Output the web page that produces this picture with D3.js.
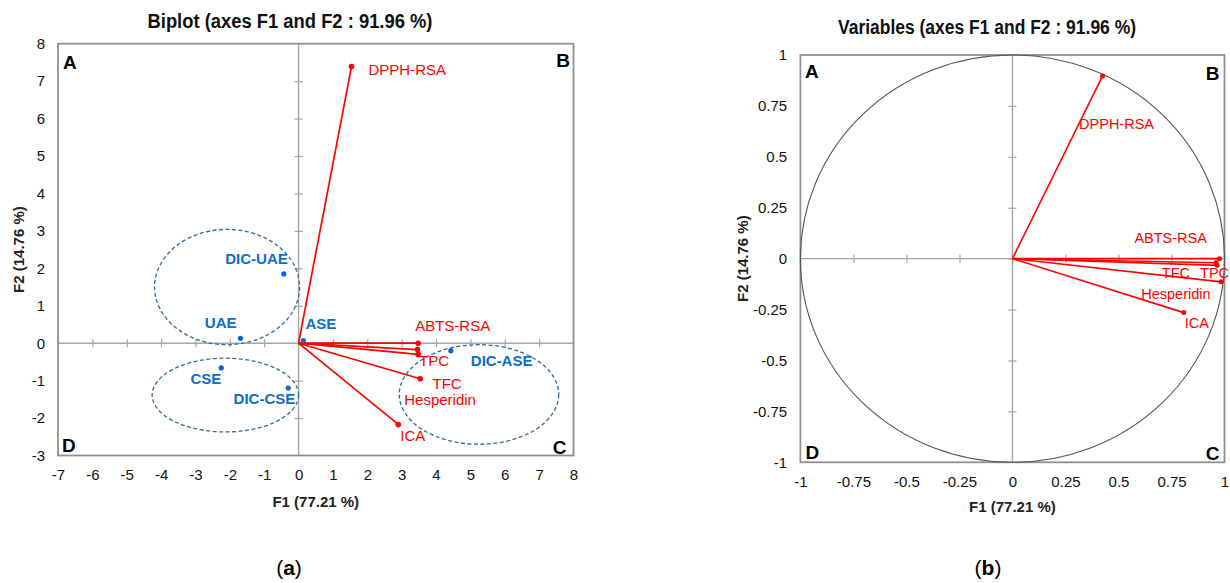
<!DOCTYPE html>
<html><head><meta charset="utf-8">
<script src="https://cdn.jsdelivr.net/npm/d3@7"></script>
<style>
body{margin:0;background:#fff}
svg{display:block}
text{font-family:"Liberation Sans",Arial,sans-serif}
</style>
</head><body>
<svg id="chart" width="1230" height="583"></svg>
<script>
// ---------------- DATA ----------------
// Observations (biplot, panel a)
const obsNames = ["DIC-UAE", "UAE", "ASE", "CSE", "DIC-CSE", "DIC-ASE"];
const obsF1    = [-0.43, -1.69, 0.14, -2.25, -0.30, 4.43];
const obsF2    = [ 1.85,  0.13, 0.07, -0.66, -1.20, -0.20];

// Variables
const varNames   = ["DPPH-RSA", "ABTS-RSA", "TFC", "TPC", "Hesperidin", "ICA"];
const biplotVarF1 = [1.54, 3.48, 3.46, 3.48, 3.54, 2.90];
const biplotVarF2 = [7.39, 0.00, -0.17, -0.30, -0.95, -2.17];
const corrVarF1   = [0.425, 0.976, 0.960, 0.965, 0.984, 0.808];
const corrVarF2   = [0.897, 0.000, -0.020, -0.033, -0.114, -0.265];

// Group ellipses (biplot)
const groupCx = [-2.08, -2.13, 5.25];
const groupCy = [ 1.50, -1.385, -1.37];
const groupRx = [ 2.11, 2.13, 2.32];
const groupRy = [ 1.54, 0.985, 1.33];

// Ticks
const biplotXTicks = [-7,-6,-5,-4,-3,-2,-1,0,1,2,3,4,5,6,7,8];
const biplotYTicks = [-3,-2,-1,0,1,2,3,4,5,6,7,8];
const circleTicks  = [-1,-0.75,-0.5,-0.25,0,0.25,0.5,0.75,1];
const quadrants    = ["A","B","C","D"];

const titleA = "Biplot (axes F1 and F2 : 91.96 %)";
const titleB = "Variables (axes F1 and F2 : 91.96 %)";
const xTitle = "F1 (77.21 %)";
const yTitle = "F2 (14.76 %)";

// ---------------- LAYOUT / STYLE ----------------
const BOX_A = {x0: 58, x1: 573.5, y0: 43.7, y1: 455.5};
const BOX_B = {x0: 800.4, x1: 1224.5, y0: 55, y1: 462.3};
const RED = "#ff0000", BLUE = "#0a6fc9", ELL = "#2f6f9f";

// label offsets (pixels from point): [dx, dy(center), anchor]
const obsLabelPos = {
  "DIC-UAE": [4, -15.5, "end"], "UAE": [-4, -16, "end"], "ASE": [2, -17, "start"],
  "CSE": [0, 11, "end"], "DIC-CSE": [7, 10.6, "end"], "DIC-ASE": [20, 10.5, "start"]
};
const biplotVarLabelPos = {
  "DPPH-RSA": [17, 3.5, "start"], "ABTS-RSA": [-3, -17, "start"], "TFC": [15, 34.5, "start"],
  "TPC": [1, 6, "start"], "Hesperidin": [-16, 21, "start"], "ICA": [2, 11, "start"]
};
const corrVarLabelPos = {
  "DPPH-RSA": [-23.5, 48, "start"], "ABTS-RSA": [-12.5, -20.5, "end"], "TFC": [-26, 10, "end"],
  "TPC": [-17, 7.5, "start"], "Hesperidin": [-10.5, 12.3, "end"], "ICA": [1, 10, "start"]
};

const svg = d3.select("#chart");
svg.append("rect").attr("width",1230).attr("height",583).attr("fill","#fff");

function panel(box, xDom, yDom, xTicks, yTicks, opts) {
  const x = d3.scaleLinear().domain(xDom).range([box.x0, box.x1]);
  const y = d3.scaleLinear().domain(yDom).range([box.y1, box.y0]);
  const g = svg.append("g");
  const fmt = d => String(d);

  // tick labels
  g.append("g").attr("transform", `translate(0,${box.y1})`)
    .call(d3.axisBottom(x).tickValues(xTicks).tickSize(0).tickPadding(opts.xPad).tickFormat(fmt))
    .call(a => a.select(".domain").remove())
    .attr("font-size", opts.tickSize).attr("font-family", '"Liberation Sans",Arial,sans-serif')
    .selectAll("text").attr("fill", "#111");
  g.append("g").attr("transform", `translate(${box.x0},0)`)
    .call(d3.axisLeft(y).tickValues(yTicks).tickSize(0).tickPadding(opts.yPad).tickFormat(fmt))
    .call(a => a.select(".domain").remove())
    .attr("font-size", opts.tickSize).attr("font-family", '"Liberation Sans",Arial,sans-serif')
    .selectAll("text").attr("fill", "#111");

  // zero lines
  g.append("line").attr("x1", box.x0).attr("x2", box.x1).attr("y1", y(0)).attr("y2", y(0))
    .attr("stroke", "#a6a6a6").attr("stroke-width", 1.4);
  g.append("line").attr("x1", x(0)).attr("x2", x(0)).attr("y1", box.y0).attr("y2", box.y1)
    .attr("stroke", "#a6a6a6").attr("stroke-width", 1.4);
  // tick marks on zero lines
  const inX = xTicks.slice(1, -1), inY = yTicks.slice(1, -1);
  g.append("g").attr("transform", `translate(0,${y(0) - 4})`)
    .call(d3.axisBottom(x).tickValues(inX).tickSize(8).tickFormat(""))
    .call(a => a.select(".domain").remove())
    .selectAll("line").attr("stroke", "#a6a6a6").attr("stroke-width", 1.2);
  g.append("g").attr("transform", `translate(${x(0) + 4},0)`)
    .call(d3.axisLeft(y).tickValues(inY).tickSize(8).tickFormat(""))
    .call(a => a.select(".domain").remove())
    .selectAll("line").attr("stroke", "#a6a6a6").attr("stroke-width", 1.2);

  // frame
  g.append("rect").attr("x", box.x0).attr("y", box.y0)
    .attr("width", box.x1 - box.x0).attr("height", box.y1 - box.y0)
    .attr("fill", "none").attr("stroke", "#8f8f8f").attr("stroke-width", 1.8);

  // titles
  g.append("text").attr("x", opts.titleX).attr("y", opts.titleY).attr("dy", "0.35em")
    .attr("text-anchor", "middle").attr("font-size", 20).attr("font-weight", "bold")
    .attr("textLength", opts.titleLen).attr("lengthAdjust", "spacingAndGlyphs")
    .attr("fill", "#111").text(opts.title);
  g.append("text").attr("x", (box.x0 + box.x1) / 2).attr("y", opts.xTitleY).attr("dy", "0.35em")
    .attr("text-anchor", "middle").attr("font-size", 15).attr("font-weight", "bold")
    .attr("fill", "#222").text(xTitle);
  g.append("text").attr("transform", `translate(${opts.yTitleX},${(box.y0 + box.y1) / 2}) rotate(-90)`)
    .attr("dy", "0.35em").attr("text-anchor", "middle").attr("font-size", 15)
    .attr("font-weight", "bold").attr("fill", "#222").text(yTitle);

  // quadrant letters
  const lp = opts.letters;
  quadrants.forEach(q => {
    const p = lp[q];
    const bx = (q === "A" || q === "D") ? box.x0 : box.x1;
    const by = (q === "A" || q === "B") ? box.y0 : box.y1;
    g.append("text").attr("x", bx + p[0]).attr("y", by + p[1]).attr("dy", "0.36em")
      .attr("text-anchor", (q === "A" || q === "D") ? "start" : "end")
      .attr("font-family", "Lato, 'Open Sans', sans-serif").attr("font-weight", 700)
      .attr("font-size", 19).attr("fill", "#000").text(q);
  });
  return {g, x, y};
}

// ---------------- PANEL A : Biplot ----------------
const A = panel(BOX_A, [-7, 8], [-3, 8], biplotXTicks, biplotYTicks, {
  xPad: 14, yPad: 13, tickSize: 15,
  title: titleA, titleX: 290, titleY: 21, titleLen: 285, xTitleY: 501.5, yTitleX: 19,
  letters: {A: [5, 18], B: [-3.5, 16.5], D: [4, -10.5], C: [-7, -8.5]}
});

// ellipses
A.g.append("g").selectAll("ellipse").data(groupCx).join("ellipse")
  .attr("cx", (d, i) => A.x(groupCx[i])).attr("cy", (d, i) => A.y(groupCy[i]))
  .attr("rx", (d, i) => A.x(groupRx[i]) - A.x(0)).attr("ry", (d, i) => A.y(0) - A.y(groupRy[i]))
  .attr("fill", "none").attr("stroke", ELL).attr("stroke-width", 1.3).attr("stroke-dasharray", "4,2.5");

// variable vectors
const vA = A.g.append("g");
varNames.forEach((n, i) => {
  vA.append("line").attr("x1", A.x(0)).attr("y1", A.y(0))
    .attr("x2", A.x(biplotVarF1[i])).attr("y2", A.y(biplotVarF2[i]))
    .attr("stroke", RED).attr("stroke-width", 1.7);
  vA.append("circle").attr("cx", A.x(biplotVarF1[i])).attr("cy", A.y(biplotVarF2[i]))
    .attr("r", 2.8).attr("fill", RED);
  const p = biplotVarLabelPos[n];
  vA.append("text").attr("x", A.x(biplotVarF1[i]) + p[0]).attr("y", A.y(biplotVarF2[i]) + p[1])
    .attr("dy", "0.35em").attr("text-anchor", p[2]).attr("font-size", 15).attr("fill", RED).text(n);
});

// observations
const oA = A.g.append("g");
obsNames.forEach((n, i) => {
  oA.append("circle").attr("cx", A.x(obsF1[i])).attr("cy", A.y(obsF2[i])).attr("r", 2.6).attr("fill", "#1060e0");
  const p = obsLabelPos[n];
  oA.append("text").attr("x", A.x(obsF1[i]) + p[0]).attr("y", A.y(obsF2[i]) + p[1])
    .attr("dy", "0.35em").attr("text-anchor", p[2]).attr("font-size", 15)
    .attr("font-weight", "bold").attr("fill", BLUE).text(n);
});

// ---------------- PANEL B : Correlation circle ----------------
const B = panel(BOX_B, [-1, 1], [-1, 1], circleTicks, circleTicks, {
  xPad: 14.5, yPad: 13.2, tickSize: 15,
  title: titleB, titleX: 987, titleY: 26.5, titleLen: 298, xTitleY: 506.5, yTitleX: 743,
  letters: {A: [4.5, 16], B: [-5, 18], D: [5, -10.6], C: [-5, -9]}
});

B.g.append("ellipse").attr("cx", B.x(0)).attr("cy", B.y(0))
  .attr("rx", B.x(1) - B.x(0)).attr("ry", B.y(0) - B.y(1))
  .attr("fill", "none").attr("stroke", "#555").attr("stroke-width", 1.1);

const vB = B.g.append("g");
varNames.forEach((n, i) => {
  vB.append("line").attr("x1", B.x(0)).attr("y1", B.y(0))
    .attr("x2", B.x(corrVarF1[i])).attr("y2", B.y(corrVarF2[i]))
    .attr("stroke", RED).attr("stroke-width", 1.6);
  vB.append("circle").attr("cx", B.x(corrVarF1[i])).attr("cy", B.y(corrVarF2[i]))
    .attr("r", 2.5).attr("fill", RED);
});
varNames.forEach((n, i) => {
  const p = corrVarLabelPos[n];
  vB.append("text").attr("x", B.x(corrVarF1[i]) + p[0]).attr("y", B.y(corrVarF2[i]) + p[1])
    .attr("dy", "0.35em").attr("text-anchor", p[2]).attr("font-size", 14.5).attr("fill", RED).text(n);
});

// ---------------- sub-captions ----------------
[["a", 289], ["b", 988]].forEach(([c, cx]) => {
  const t = svg.append("text").attr("x", cx).attr("y", 568).attr("dy", "0.35em")
    .attr("text-anchor", "middle").attr("font-family", '"Liberation Serif","Times New Roman",serif')
    .attr("font-size", 21).attr("fill", "#000");
  t.append("tspan").text("(");
  t.append("tspan").attr("font-weight", "bold").text(c);
  t.append("tspan").text(")");
});
</script>
</body></html>
